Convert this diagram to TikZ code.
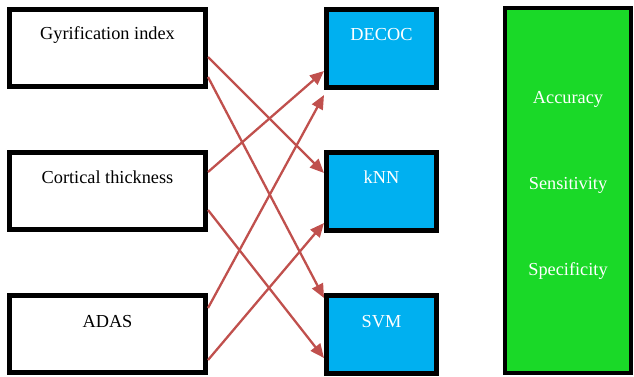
\documentclass[tikz,border=0pt]{standalone}
\usepackage{fontspec}
\setmainfont{Liberation Serif}
\usetikzlibrary{arrows.meta}
\definecolor{arr}{RGB}{192,80,77}
\definecolor{cblue}{RGB}{0,176,240}
\definecolor{cgreen}{RGB}{26,217,40}
\begin{document}
\begin{tikzpicture}[x=1pt,y=-1pt,
 box/.style={draw=black, line width=5pt, minimum width=196pt, minimum height=77pt, inner sep=0pt, fill=white},
 cls/.style={draw=black, line width=5pt, fill=cblue, minimum width=110pt, minimum height=78pt, inner sep=0pt},
 mbox/.style={draw=black, line width=4pt, fill=cgreen, minimum width=126pt, minimum height=365pt, inner sep=0pt},
 txt/.style={font=\fontsize{18.3}{22}\selectfont, inner sep=0pt},
 wtxt/.style={txt, text=white},
 conn/.style={draw=arr, line width=2.3pt, -{Triangle[length=14pt,width=12pt]}}]
\useasboundingbox (0,0) rectangle (634,377);
% input boxes
\node[box] (g) at (107.5,48) {};
\node[box] (c) at (107.5,191) {};
\node[box] (a) at (107.5,334) {};
\node[txt] (gt) at (107.5,35) {Gyrification index};
\node[txt] (ct) at (107.5,177) {Cortical thickness};
\node[txt] (at) at (107.5,322) {ADAS};
% classifier boxes
\node[cls] (d) at (381.5,48.5) {};
\node[cls] (k) at (381.5,191) {};
\node[cls] (s) at (381.5,334) {};
\node[wtxt] (dt) at (381.5,35) {DECOC};
\node[wtxt] (kt) at (381.5,177) {kNN};
\node[wtxt] (st) at (381.5,322) {SVM};
% metrics box
\node[mbox] (m) at (568,190.5) {};
\node[wtxt] (m1) at (568,99) {Accuracy};
\node[wtxt] (m2) at (568,185) {Sensitivity};
\node[wtxt] (m3) at (568,271) {Specificity};
% connectors
\draw[conn] ([yshift=-9pt]g.east) -- ([yshift=18pt]k.west);
\draw[conn] ([yshift=-29pt]g.east) -- ([yshift=36pt]s.west);
\draw[conn] ([yshift=19pt]c.east) -- ([yshift=-22.5pt]d.west);
\draw[conn] ([yshift=-19pt]c.east) -- ([yshift=-24pt]s.west);
\draw[conn] ([yshift=26pt]a.east) -- ([yshift=-46.5pt]d.west);
\draw[conn] ([yshift=-26pt]a.east) -- ([yshift=-32pt]k.west);
\end{tikzpicture}
\end{document}
